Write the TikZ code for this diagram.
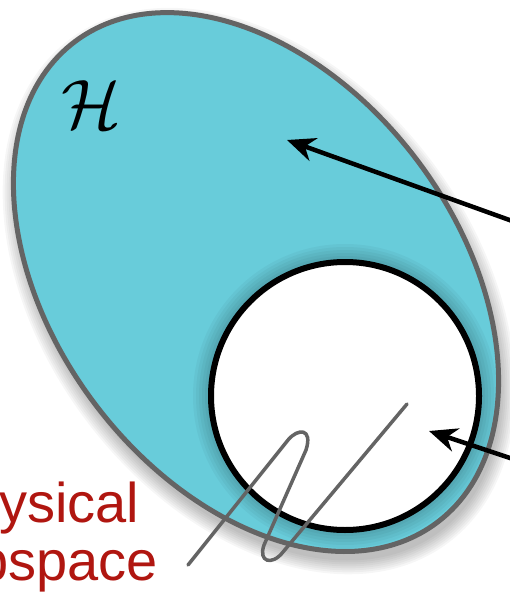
\RequirePackage{fix-cm}
\documentclass[tikz,border=0pt]{standalone}
\usepackage{fontspec}
\setsansfont{Liberation Sans}
\usetikzlibrary{arrows.meta}

\definecolor{cyanfill}{RGB}{104,204,218}
\definecolor{rimgray}{RGB}{100,100,100}
\definecolor{labelred}{RGB}{176,22,16}

\begin{document}
\begin{tikzpicture}[x=1pt, y=-1pt, >={Stealth[length=28pt, width=24pt, inset=9pt]}]

% Styles
\tikzset{
  space/.style={fill=cyanfill},
  rim/.style={draw=rimgray, line width=5pt},
  subspace/.style={fill=white, draw=black, line width=6pt},
  pointer/.style={->, line width=4.5pt},
  wiggle/.style={draw=rimgray, line width=3.5pt, line cap=round},
  redlabel/.style={text=labelred, font=\sffamily\fontsize{56}{58}\selectfont, inner sep=0pt}
}

% Frame
\useasboundingbox (0,0) rectangle (510,593);
\clip (0,0) rectangle (510,593);

% Coordinates
\coordinate (Hc) at (256,282);     % centre of the big space
\coordinate (Hs) at (259,291);     % centre of its shadow
\coordinate (Pc) at (345,396);     % centre of the subspace
\coordinate (srcA) at (540,231);
\coordinate (tipA) at (287,140);
\coordinate (srcB) at (540,468);
\coordinate (tipB) at (429,431);
\coordinate (wA) at (188,565);     % ends of the wiggle
\coordinate (wB) at (407,404);

% Shadow of the big space
\foreach \k in {14,12,...,0}
  \fill[black, opacity=0.035, rotate around={-53:(Hs)}]
    (Hs) ellipse [x radius=301+\k, y radius=202+\k];

% Big space
\fill[space, rotate around={-53:(Hc)}] (Hc) ellipse [x radius=301, y radius=202];

% Shadow of the subspace on the big space
\begin{scope}
  \clip[rotate around={-53:(Hc)}] (Hc) ellipse [x radius=301, y radius=202];
  \foreach \k in {18,15,...,0}
    \fill[black, opacity=0.035] (Pc) circle (134+\k);
\end{scope}

\draw[rim, rotate around={-53:(Hc)}] (Hc) ellipse [x radius=301, y radius=202];

% Subspace
\draw[subspace] (Pc) circle (134);

% Wiggle
\draw[wiggle] (wA) -- (288,440)
  .. controls (298,428) and (313,428) .. (306,450)
  -- (264,545)
  .. controls (258,562) and (272,566) .. (283,552)
  -- (wB);

% Pointers
\draw[pointer] (srcA) -- (tipA);
\draw[pointer] (srcB) -- (tipB);

% Labels
\node[font=\fontsize{70}{70}\selectfont] (H) at (91,105) {$\mathcal{H}$};
\node[redlabel, anchor=base] (phys) at (38,522) {physical};
\node[redlabel, anchor=base] (subsp) at (38,580) {subspace};

\end{tikzpicture}
\end{document}
